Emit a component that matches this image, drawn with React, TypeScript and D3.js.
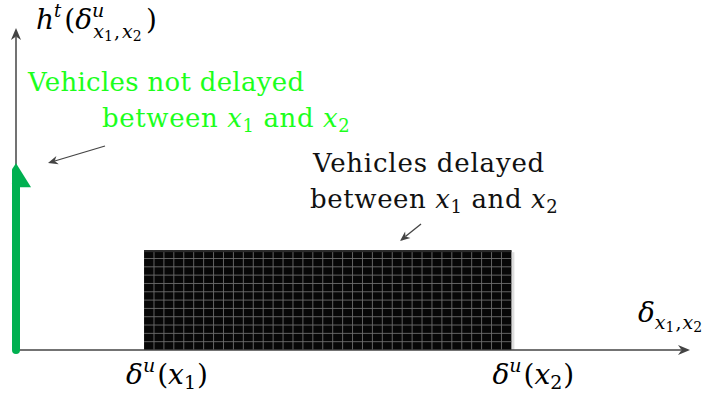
import React from "react";
import * as d3 from "d3";

// Conceptual distribution of delays between two points x1 and x2
const axisDomainX = [0, 10];
const axisDomainY = [0, 10];
const delayedStart = [1.9]; // δ^u(x1)
const delayedEnd = [7.35]; // δ^u(x2)
const delayedHeight = [3.1];
const notDelayedMass = [5.8]; // point mass at zero delay
const gridColumns = [37];
const gridRows = [12];

const W = 703;
const H = 397;

const x = d3.scaleLinear().domain(axisDomainX).range([16, 690]);
const y = d3.scaleLinear().domain(axisDomainY).range([350, 28]);

const FONT = '"DejaVu Serif", serif';
const AXIS = "#444";
const GREEN = "#00b050";
const TEXT_GREEN = "#1cff1c";

function Arrow({ x1, y1, x2, y2, color, head = 11, width = 1.3 }: any) {
  const a = Math.atan2(y2 - y1, x2 - x1);
  const hw = head * 0.42;
  const bx = x2 - head * Math.cos(a);
  const by = y2 - head * Math.sin(a);
  const p1 = [bx + hw * Math.sin(a), by - hw * Math.cos(a)];
  const p2 = [bx - hw * Math.sin(a), by + hw * Math.cos(a)];
  const inner = [x2 - head * 0.7 * Math.cos(a), y2 - head * 0.7 * Math.sin(a)];
  return (
    <g>
      <line x1={x1} y1={y1} x2={inner[0]} y2={inner[1]} stroke={color} strokeWidth={width} />
      <path d={`M${x2},${y2}L${p1[0]},${p1[1]}L${inner[0]},${inner[1]}L${p2[0]},${p2[1]}Z`} fill={color} />
    </g>
  );
}

// "between x1 and x2" with real subscripts
function Between({ x0, y0 }: any) {
  return (
    <text x={x0} y={y0} letterSpacing={0.6}>
      between <tspan fontStyle="italic">x</tspan>
      <tspan fontSize={18} dy={5}>1</tspan>
      <tspan dy={-5}> and </tspan>
      <tspan fontStyle="italic">x</tspan>
      <tspan fontSize={18} dy={5}>2</tspan>
    </text>
  );
}

export default function App() {
  const rx0 = x(delayedStart[0]);
  const rx1 = x(delayedEnd[0]);
  const ry0 = y(delayedHeight[0]);
  const ry1 = y(0);
  const cols = d3.range(1, gridColumns[0]).map((i) => rx0 + ((rx1 - rx0) * i) / gridColumns[0]);
  const rows = d3.range(1, gridRows[0]).map((i) => ry0 + ((ry1 - ry0) * i) / gridRows[0]);
  const gx = x(0);
  const gTop = y(notDelayedMass[0]);

  return (
    <svg width={W} height={H} style={{ position: "absolute", left: 0, top: 0, background: "#fff" }}>
      {/* delayed vehicles block */}
      <rect x={rx1} y={ry0 + 2} width={3} height={ry1 - ry0 - 2} fill="#ddd" />
      <rect x={rx0} y={ry0} width={rx1 - rx0} height={ry1 - ry0} fill="#070707" />
      {cols.map((c, i) => (
        <line key={"c" + i} x1={c} x2={c} y1={ry0} y2={ry1} stroke="#6e6e6e" strokeWidth={0.9} />
      ))}
      {rows.map((r, i) => (
        <line key={"r" + i} x1={rx0} x2={rx1} y1={r} y2={r} stroke="#6e6e6e" strokeWidth={0.9} />
      ))}
      <rect x={rx0} y={ry0} width={rx1 - rx0} height={2} fill="#2a2a2a" />

      {/* axes */}
      <Arrow x1={gx} y1={y(0)} x2={x(10)} y2={y(0)} color={AXIS} head={12} width={1.5} />
      <Arrow x1={gx} y1={y(0)} x2={gx} y2={y(10)} color={AXIS} head={12} width={1.5} />

      {/* point mass of non-delayed vehicles */}
      <line x1={gx} y1={y(0)} x2={gx} y2={gTop + 20} stroke={GREEN} strokeWidth={8} strokeLinecap="round" />
      <path d={`M${gx},${gTop}L${gx + 15},${gTop + 24}L${gx - 4},${gTop + 24}L${gx - 4},${gTop + 6}Z`} fill={GREEN} />

      {/* annotation arrows */}
      <Arrow x1={105} y1={146} x2={48} y2={163} color={AXIS} head={10} width={1.3} />
      <Arrow x1={421} y1={224} x2={400} y2={241} color={AXIS} head={10} width={1.3} />

      <g style={{ fontFamily: FONT, fontSize: 26 }}>
        {/* y axis label */}
        <text x={36} y={29} fontSize={28}>
          <tspan fontStyle="italic">h</tspan>
          <tspan fontSize={18} fontStyle="italic" dy={-12}>t</tspan>
          <tspan dx={3} dy={12}>(</tspan>
          <tspan fontStyle="italic">δ</tspan>
          <tspan fontSize={19} fontStyle="italic" dy={-12}>u</tspan>
          <tspan fontSize={19} fontStyle="italic" dx={-11} dy={21}>x</tspan>
          <tspan fontSize={14} dy={3}>1</tspan>
          <tspan fontSize={19} dx={1} dy={-3}>,</tspan>
          <tspan fontSize={19} fontStyle="italic" dx={2}>x</tspan>
          <tspan fontSize={14} dy={3}>2</tspan>
        </text>
        <text x={146} y={29} fontSize={28}>)</text>

        {/* x axis label */}
        <text x={638} y={322} fontSize={28}>
          <tspan fontStyle="italic">δ</tspan>
          <tspan fontSize={19} fontStyle="italic" dy={7}>x</tspan>
          <tspan fontSize={14} dy={3}>1</tspan>
          <tspan fontSize={19} dx={1} dy={-3}>,</tspan>
          <tspan fontSize={19} fontStyle="italic" dx={1}>x</tspan>
          <tspan fontSize={14} dy={3}>2</tspan>
        </text>

        {/* tick labels */}
        {[
          { v: delayedStart[0], i: "1", dx: -18 },
          { v: delayedEnd[0], i: "2", dx: -19 },
        ].map((t) => (
          <text key={t.i} x={x(t.v) + t.dx} y={384} fontSize={28}>
            <tspan fontStyle="italic">δ</tspan>
            <tspan fontSize={19} fontStyle="italic" dy={-12}>u</tspan>
            <tspan dx={2} dy={12}>(</tspan>
            <tspan fontStyle="italic">x</tspan>
            <tspan fontSize={19} dy={5}>{t.i}</tspan>
            <tspan dx={1} dy={-5}>)</tspan>
          </text>
        ))}

        {/* annotations */}
        <g fill={TEXT_GREEN}>
          <text x={28} y={91} letterSpacing={0.3}>Vehicles not delayed</text>
          <Between x0={102} y0={127} />
        </g>
        <g fill="#111">
          <text x={429} y={172} textAnchor="middle" letterSpacing={0.8}>Vehicles delayed</text>
          <Between x0={310} y0={208} />
        </g>
      </g>
    </svg>
  );
}
